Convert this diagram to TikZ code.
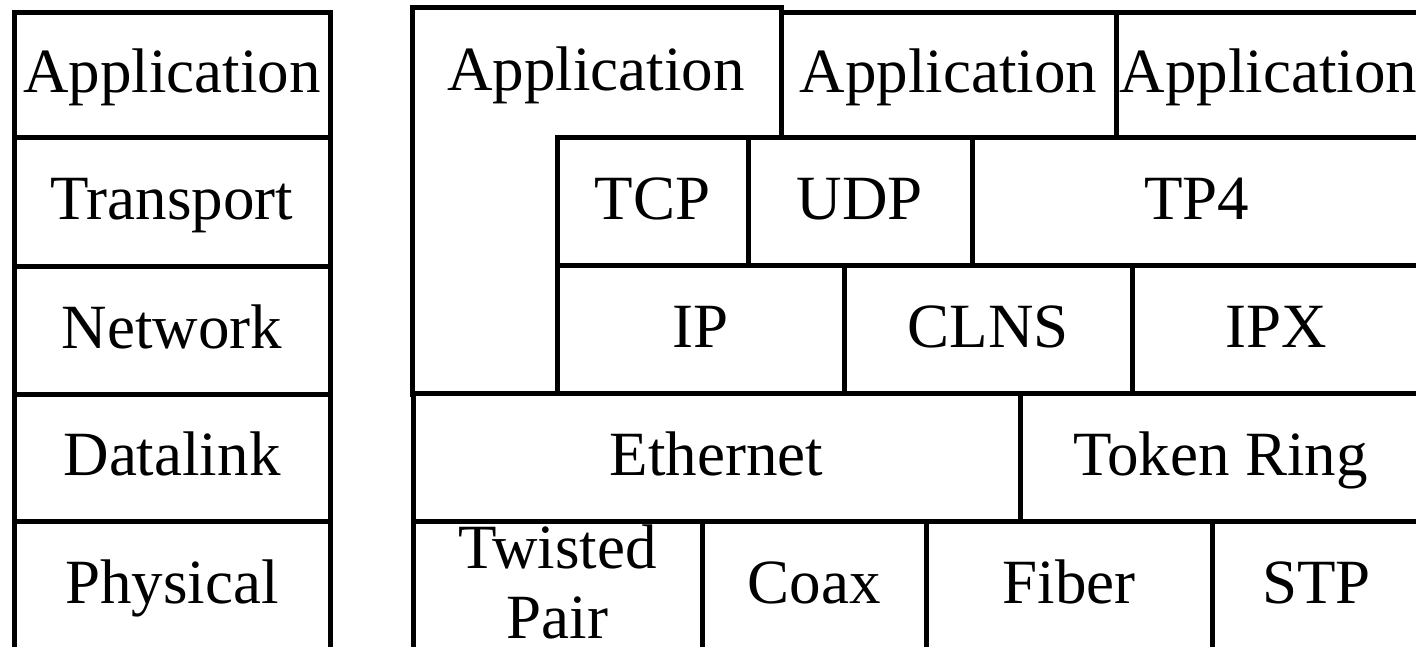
\documentclass[tikz,border=0pt]{standalone}
\usepackage{fontspec}
\setmainfont{Liberation Serif}
\tikzset{
  txt/.style={font=\fontsize{63}{70}\selectfont, align=center, text height=42pt, text depth=6pt},
  lay/.style={txt, draw=black, fill=white, line width=5pt, line join=miter, rectangle,
    inner sep=0pt, outer sep=0pt, anchor=north west},
  lbl/.style={txt, inner sep=0pt},
  twoline/.style={text height=112pt, text depth=6pt}
}
\newcommand{\lay}[7]{\node[lay, minimum width=#4pt, minimum height=#5pt, #7] (#1) at (#2,#3) {#6};}
\begin{document}
\begin{tikzpicture}[x=1pt,y=-1pt]
\useasboundingbox (0,0) rectangle (1416,646);
% left reference stack
\lay{lapp}{14}{12}{316}{125}{Application}{}
\lay{ltra}{14}{137}{316}{129}{Transport}{}
\lay{lnet}{14}{266}{316}{128}{Network}{}
\lay{ldat}{14}{394}{316}{127}{Datalink}{}
\lay{lphy}{14}{521}{316}{128}{Physical}{}
% right stack
\lay{appbig}{412}{7}{369}{387}{}{}
\node[lbl] (appbigtext) at (596,72) {Application};
\lay{app2}{781}{12}{335}{125}{Application}{}
\lay{app3}{1116}{12}{305}{125}{Application}{}
\lay{tcp}{557}{137}{191}{128}{TCP}{}
\lay{udp}{748}{137}{224}{128}{UDP}{}
\lay{tpf}{972}{137}{449}{128}{TP4}{}
\lay{ip}{557}{265}{287}{128}{IP}{}
\lay{clns}{844}{265}{288}{128}{CLNS}{}
\lay{ipx}{1132}{265}{289}{128}{IPX}{}
\lay{eth}{413}{393}{607}{128}{Ethernet}{}
\lay{tr}{1020}{393}{401}{128}{Token Ring}{}
\lay{tp}{413}{521}{289}{128}{Twisted\\Pair}{twoline}
\lay{coax}{702}{521}{224}{128}{Coax}{}
\lay{fiber}{926}{521}{286}{128}{Fiber}{}
\lay{stp}{1212}{521}{209}{128}{STP}{}
\end{tikzpicture}
\end{document}
